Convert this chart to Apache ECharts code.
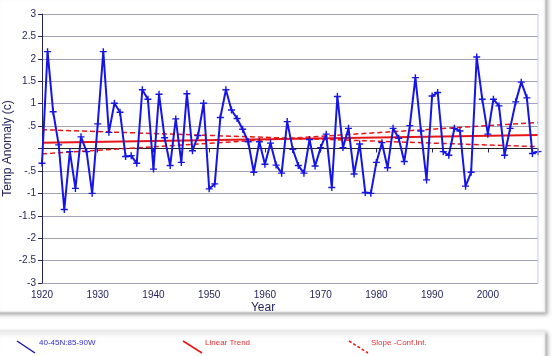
<!DOCTYPE html>
<html><head><meta charset="utf-8">
<script src="https://cdn.jsdelivr.net/npm/echarts@6/dist/echarts.min.js"></script>
<style>html,body{margin:0;padding:0;background:#fff}#c{width:553px;height:356px}</style>
</head><body><div id="c"></div>
<script>
var startYear = 1920;
var anomaly = [-0.33,2.16,0.82,0.08,-1.36,-0.07,-0.89,0.26,-0.07,-1.00,
  0.55,2.16,0.36,1.01,0.81,-0.18,-0.16,-0.33,1.31,1.10,
  -0.46,1.21,0.24,-0.38,0.66,-0.31,1.22,-0.05,0.29,1.01,
  -0.90,-0.79,0.69,1.31,0.86,0.67,0.43,0.15,-0.53,0.15,
  -0.35,0.12,-0.37,-0.55,0.60,-0.02,-0.38,-0.55,0.20,-0.39,
  0.02,0.32,-0.87,1.16,0.02,0.45,-0.57,0.10,-0.98,-1.00,
  -0.31,0.13,-0.43,0.45,0.23,-0.29,0.51,1.58,0.39,-0.70,
  1.17,1.25,-0.07,-0.15,0.45,0.39,-0.84,-0.53,2.04,1.10,
  0.32,1.10,0.95,-0.15,0.45,1.04,1.48,1.13,-0.11,-0.07];
var trendYears = [1920, 2009];
var linearTrend = [0.13, 0.30];
var confA = [0.42, 0.04];
var confB = [-0.12, 0.58];
var xTicks = [1920,1930,1940,1950,1960,1970,1980,1990,2000];
var seriesNames = ['40-45N:85-90W','Linear Trend','Slope -Conf.Int.'];

var dataPts = anomaly.map(function(v,i){return [startYear+i, v];});
function pairs(ys){return trendYears.map(function(x,i){return [x, ys[i]];});}

var navy = '#25255e';
var blue = '#1515e6';
var red = '#e81515';
var chart = echarts.init(document.getElementById('c'), null, {renderer:'canvas'});
chart.setOption({
  animation:false,
  backgroundColor:'#fff',
  grid:{left:42, right:15, top:14, bottom:73, containLabel:false, outerBoundsMode:'none'},
  xAxis:{type:'value', min:1920, max:2009, interval:10,
    name:'Year', nameLocation:'middle', nameGap:19, nameMoveOverlap:false,
    nameTextStyle:{color:navy, fontSize:12, fontFamily:'Liberation Sans', padding:[0,54,0,0]},
    axisLine:{lineStyle:{color:navy, width:1}},
    axisTick:{length:4, lineStyle:{color:navy}, customValues:xTicks},
    axisLabel:{color:navy, fontSize:10, fontFamily:'Liberation Sans', margin:7, customValues:xTicks,
      formatter:function(v){return String(v);}},
    splitLine:{show:false}},
  yAxis:{type:'value', min:-3, max:3, interval:0.5,
    name:'Temp Anomaly (c)', nameLocation:'middle', nameGap:28, nameMoveOverlap:false,
    nameTextStyle:{color:navy, fontSize:12, fontFamily:'Liberation Sans'},
    axisLine:{show:true, lineStyle:{color:navy, width:1}},
    axisTick:{show:true, length:4, lineStyle:{color:navy}},
    axisLabel:{color:navy, fontSize:10, fontFamily:'Liberation Sans', margin:6,
      formatter:function(v){ if (Math.abs(v)<1e-9) return ''; var s=String(v); return s.replace(/^0\./,'.').replace(/^-0\./,'-.'); }},
    splitLine:{show:true, lineStyle:{color:'#a3a3bb', width:1}}},
  graphic:[
    {type:'rect', z:-10, shape:{x:-6,y:-6,width:551,height:318}, style:{fill:'#fff', stroke:'#e4e4e4', lineWidth:1, shadowBlur:4, shadowOffsetX:2, shadowOffsetY:2, shadowColor:'rgba(0,0,0,0.35)'}},
    {type:'rect', z:-10, shape:{x:-6,y:331,width:551,height:40}, style:{fill:'#fff', stroke:'#e4e4e4', lineWidth:1, shadowBlur:4, shadowOffsetX:2, shadowOffsetY:2, shadowColor:'rgba(0,0,0,0.35)'}},
    {type:'line', z:100, shape:{x1:538,y1:14,x2:538,y2:283}, style:{stroke:'#c8c8f0', lineWidth:1}},
    {type:'line', z:100, shape:{x1:17,y1:341,x2:35,y2:353}, style:{stroke:'#1a1aa0', lineWidth:1.5}},
    {type:'text', z:100, x:39, y:343, style:{text:seriesNames[0], fill:'#3030d0', font:'8px "Liberation Sans"', textVerticalAlign:'middle'}},
    {type:'line', z:100, shape:{x1:183,y1:341,x2:202,y2:353}, style:{stroke:red, lineWidth:1.5}},
    {type:'text', z:100, x:205, y:343, style:{text:seriesNames[1], fill:'#e03030', font:'8px "Liberation Sans"', textVerticalAlign:'middle'}},
    {type:'line', z:100, shape:{x1:349,y1:341,x2:368,y2:353}, style:{stroke:red, lineWidth:1.5, lineDash:[3,2]}},
    {type:'text', z:100, x:371, y:343, style:{text:seriesNames[2], fill:'#e03030', font:'8px "Liberation Sans"', textVerticalAlign:'middle'}}
  ],
  series:[
    {type:'line', name:seriesNames[1], data:pairs(linearTrend), symbol:'none', z:3,
      lineStyle:{color:red, width:2}},
    {type:'line', name:seriesNames[2], data:pairs(confA), symbol:'none', z:3,
      lineStyle:{color:red, width:1.5, type:[5,3]}},
    {type:'line', name:seriesNames[2]+' ', data:pairs(confB), symbol:'none', z:3,
      lineStyle:{color:red, width:1.5, type:[5,3]}},
    {type:'line', name:seriesNames[0], data:dataPts, z:4,
      symbol:'path://M4,0h2v4h4v2h-4v4h-2v-4h-4v-2h4z', symbolSize:7,
      itemStyle:{color:blue}, lineStyle:{color:blue, width:2},
      markLine:{silent:true, symbol:'none', label:{show:false}, z:2,
        lineStyle:{color:'#222', width:1, type:'solid'}, data:[{yAxis:0}]}}
  ]
});
</script></body></html>
